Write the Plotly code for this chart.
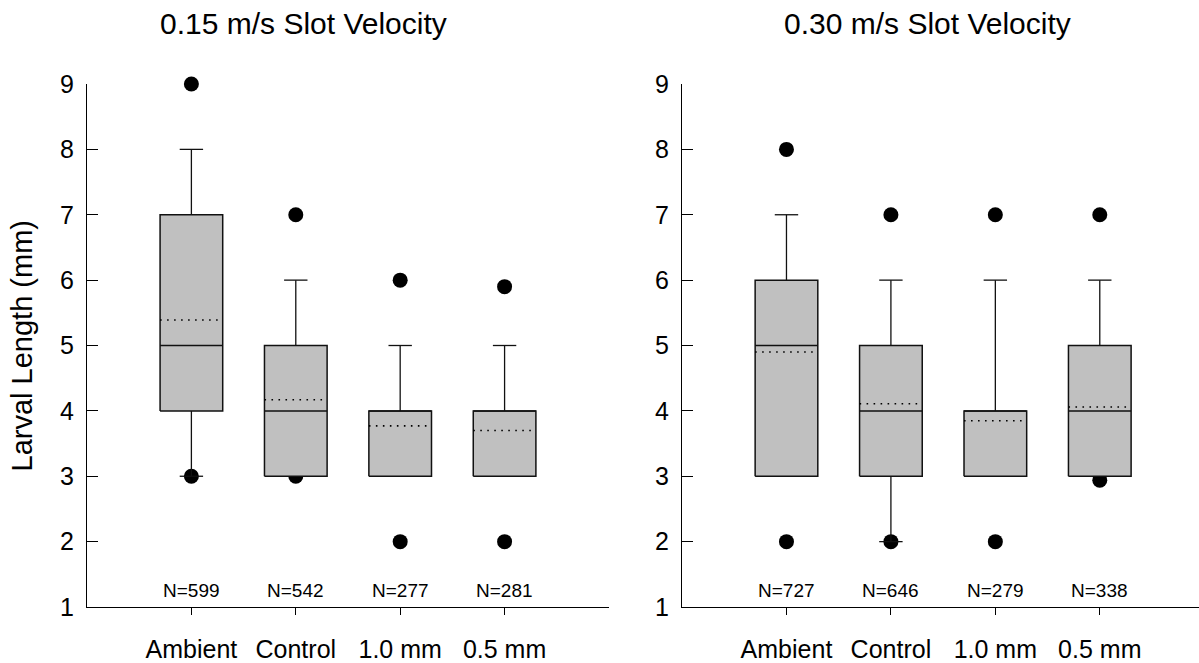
import plotly.graph_objects as go

# Treatment groups shared by both slot velocities
categories = ["Ambient", "Control", "1.0 mm", "0.5 mm"]
positions = [1, 2, 3, 4]

# 0.15 m/s slot velocity
slow_q1 = [4, 3, 3, 3]
slow_median = [5, 4, 4, 4]
slow_q3 = [7, 5, 4, 4]
slow_whisker_low = [3, 3, 3, 3]
slow_whisker_high = [8, 6, 5, 5]
slow_mean = [5.39, 4.17, 3.77, 3.70]
slow_outlier_high = [9, 7, 6, 5.9]
slow_outlier_low = [3, 3, 2, 2]
slow_n = [599, 542, 277, 281]

# 0.30 m/s slot velocity
fast_q1 = [3, 3, 3, 3]
fast_median = [5, 4, 4, 4]
fast_q3 = [6, 5, 4, 5]
fast_whisker_low = [3, 2, 3, 3]
fast_whisker_high = [7, 6, 6, 6]
fast_mean = [4.90, 4.11, 3.85, 4.06]
fast_outlier_high = [8, 7, 7, 7]
fast_outlier_low = [2, 2, 2, 2.94]
fast_n = [727, 646, 279, 338]

y_ticks = [1, 2, 3, 4, 5, 6, 7, 8, 9]

FONT = "Liberation Sans, Arial, sans-serif"
BOX_HALF = 0.3      # half box width in category units
CAP_HALF = 0.112    # half whisker-cap width
BOX_FILL = "#c0c0c0"
EDGE = "#111111"

fig = go.Figure()


def segments(pairs):
    """Flatten ((x0, y0), (x1, y1)) pairs into a gapped line path."""
    xs, ys = [], []
    for (x0, y0), (x1, y1) in pairs:
        xs += [x0, x1, None]
        ys += [y0, y1, None]
    return xs, ys


def add_panel(xa, ya, q1, med, q3, wlo, whi, mean, out_hi, out_lo, counts):
    # outlier dots sit underneath the boxes
    fig.add_trace(go.Scatter(
        x=positions + positions, y=out_hi + out_lo, mode="markers",
        marker=dict(color="black", size=15, line=dict(width=0)),
        cliponaxis=False, xaxis=xa, yaxis=ya, hoverinfo="y",
    ))
    # whiskers with caps
    pairs = []
    for p, a, b, lo, hi in zip(positions, q1, q3, wlo, whi):
        pairs += [((p, b), (p, hi)), ((p - CAP_HALF, hi), (p + CAP_HALF, hi))]
        pairs += [((p, a), (p, lo)), ((p - CAP_HALF, lo), (p + CAP_HALF, lo))]
    wx, wy = segments(pairs)
    fig.add_trace(go.Scatter(
        x=wx, y=wy, mode="lines", line=dict(color=EDGE, width=1.3),
        cliponaxis=False, xaxis=xa, yaxis=ya, hoverinfo="skip",
    ))
    # interquartile boxes
    for p, a, b in zip(positions, q1, q3):
        fig.add_trace(go.Scatter(
            x=[p - BOX_HALF, p + BOX_HALF, p + BOX_HALF, p - BOX_HALF, p - BOX_HALF],
            y=[a, a, b, b, a], mode="lines", fill="toself", fillcolor=BOX_FILL,
            line=dict(color=EDGE, width=1.5), xaxis=xa, yaxis=ya,
            hoverinfo="skip",
        ))
    # medians
    mx, my = segments([((p - BOX_HALF, m), (p + BOX_HALF, m))
                       for p, m in zip(positions, med)])
    fig.add_trace(go.Scatter(
        x=mx, y=my, mode="lines", line=dict(color=EDGE, width=1.5),
        xaxis=xa, yaxis=ya, hoverinfo="skip",
    ))
    # dotted means
    ax, ay = segments([((p - BOX_HALF, m), (p + BOX_HALF, m))
                       for p, m in zip(positions, mean)])
    fig.add_trace(go.Scatter(
        x=ax, y=ay, mode="lines",
        line=dict(color="black", width=1.6, dash="1.6px,5.4px"),
        xaxis=xa, yaxis=ya, hoverinfo="skip",
    ))
    for p, n in zip(positions, counts):
        fig.add_annotation(
            x=p, y=1.26, xref=xa, yref=ya, text=f"N={n}", showarrow=False,
            font=dict(family=FONT, size=19, color="black"),
        )


add_panel("x", "y", slow_q1, slow_median, slow_q3, slow_whisker_low,
          slow_whisker_high, slow_mean, slow_outlier_high, slow_outlier_low, slow_n)
add_panel("x2", "y2", fast_q1, fast_median, fast_q3, fast_whisker_low,
          fast_whisker_high, fast_mean, fast_outlier_high, fast_outlier_low, fast_n)

xaxis_style = dict(
    tickvals=positions, ticktext=categories, ticks="outside", ticklen=7,
    tickwidth=1.3, tickcolor="black", showline=True, linecolor="black",
    linewidth=1.3, showgrid=False, zeroline=False,
    tickfont=dict(family=FONT, size=25, color="black"), ticklabelstandoff=13,
)
yaxis_style = dict(
    range=[1, 9], tickvals=y_ticks, ticks="inside", ticklen=11, tickwidth=1.3,
    tickcolor="black", showline=True, linecolor="black", linewidth=1.3,
    showgrid=False, zeroline=False,
    tickfont=dict(family=FONT, size=25, color="black"), ticklabelstandoff=7,
)

fig.update_layout(
    width=1199, height=663,
    margin=dict(l=87, r=0, t=84, b=56),
    paper_bgcolor="white", plot_bgcolor="white",
    showlegend=False,
    xaxis=dict(domain=[0, 0.4694], range=[0, 5], anchor="y", **xaxis_style),
    yaxis=dict(anchor="x", **yaxis_style),
    xaxis2=dict(domain=[0.5351, 1], range=[0, 4.95], anchor="y2", **xaxis_style),
    yaxis2=dict(anchor="x2", **yaxis_style),
)

# panel titles and shared y-axis title
fig.add_annotation(x=0.1951, y=1.115, xref="paper", yref="paper",
                   text="0.15 m/s Slot Velocity", showarrow=False,
                   xanchor="center", yanchor="middle",
                   font=dict(family=FONT, size=30, color="black"))
fig.add_annotation(x=0.7558, y=1.115, xref="paper", yref="paper",
                   text="0.30 m/s Slot Velocity", showarrow=False,
                   xanchor="center", yanchor="middle",
                   font=dict(family=FONT, size=30, color="black"))
fig.add_annotation(x=-0.0585, y=0.5, xref="paper", yref="paper",
                   text="Larval Length (mm)", showarrow=False, textangle=-90,
                   xanchor="center", yanchor="middle",
                   font=dict(family=FONT, size=29, color="black"))

fig.write_html("out.html")
